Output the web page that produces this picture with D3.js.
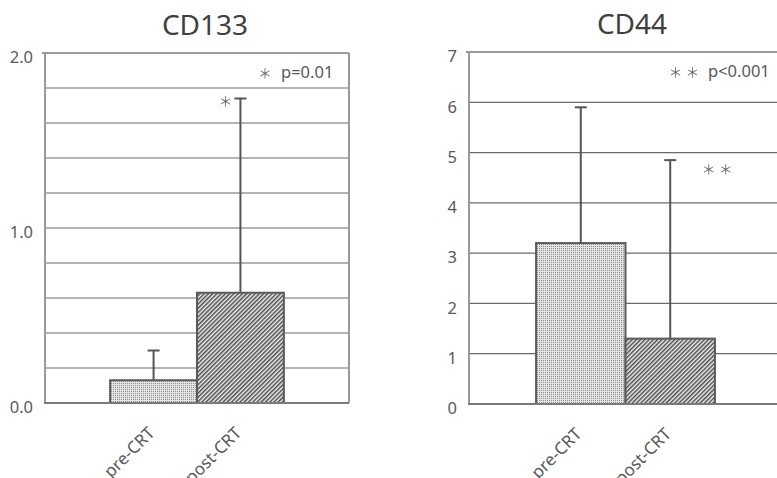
<!DOCTYPE html>
<html>
<head>
<meta charset="utf-8">
<script src="https://cdn.jsdelivr.net/npm/d3@7"></script>
<style>
  body { margin: 0; background: #fff; }
  svg { display: block; font-family: "Noto Sans", sans-serif; }
  .star { filter: grayscale(100%); }
</style>
</head>
<body>
<svg id="chart" width="777" height="478"></svg>
<script>
// groups and values
var groups = ["pre-CRT", "post-CRT"];

var cd133Mean = [0.13, 0.63];
var cd133Sd = [0.17, 1.11];
var cd133Ticks = [0, 1, 2];
var cd133Grid = [0.2, 0.4, 0.6, 0.8, 1.0, 1.2, 1.4, 1.6, 1.8];

var cd44Mean = [3.2, 1.3];
var cd44Sd = [2.7, 3.55];
var cd44Ticks = [0, 1, 2, 3, 4, 5, 6, 7];
var cd44Grid = [1, 2, 3, 4, 5, 6];

var textColor = "#595959";
var starFont = "'Noto Sans CJK JP', 'DejaVu Sans', sans-serif";
var svg = d3.select("#chart");

// fill patterns
var defs = svg.append("defs");
var dots = defs.append("pattern")
  .attr("id", "dots")
  .attr("patternUnits", "userSpaceOnUse")
  .attr("width", 2).attr("height", 2);
dots.append("rect").attr("width", 2).attr("height", 2).attr("fill", "#e4e4e4");
dots.append("rect").attr("width", 1).attr("height", 1).attr("fill", "#8e8e8e");

var hatch = defs.append("pattern")
  .attr("id", "hatch")
  .attr("patternUnits", "userSpaceOnUse")
  .attr("width", 3).attr("height", 3)
  .attr("patternTransform", "rotate(45)");
hatch.append("rect").attr("width", 3).attr("height", 3).attr("fill", "#f2f2f2");
hatch.append("rect").attr("width", 1.5).attr("height", 3).attr("fill", "#4a4a4a");

var fills = ["url(#dots)", "url(#hatch)"];

drawPanel({
  left: 45, top: 53, width: 304, height: 350,
  title: "CD133", titleX: 160,
  mean: cd133Mean, sd: cd133Sd, max: 2,
  ticks: cd133Ticks, grid: cd133Grid, fmt: d3.format(".1f"),
  note: "p=0.01", noteStars: "＊", starsX: 220, noteX: 236,
  barStars: "＊", barStarsDx: -15, barStarsDy: 3,
  rightBorder: true
});

drawPanel({
  left: 469, top: 52, width: 313, height: 352,
  title: "CD44", titleX: 163,
  mean: cd44Mean, sd: cd44Sd, max: 7,
  ticks: cd44Ticks, grid: cd44Grid, fmt: d3.format("d"),
  note: "p<0.001", noteStars: "＊ ＊", starsX: 215, noteX: 239,
  barStars: "＊ ＊", barStarsDx: 47, barStarsDy: 9,
  rightBorder: false
});

function drawPanel(o) {
  var g = svg.append("g")
    .attr("transform", `translate(${o.left}, ${o.top})`);

  var x = d3.scaleBand()
    .domain(groups)
    .range([0, o.width])
    .paddingInner(0)
    .paddingOuter(0.75);

  var y = d3.scaleLinear()
    .domain([0, o.max])
    .range([o.height, 0]);

  // title
  g.append("text")
    .attr("x", o.titleX)
    .attr("y", -18)
    .attr("text-anchor", "middle")
    .attr("font-size", 28)
    .attr("fill", "#404040")
    .text(o.title);

  // grid lines
  g.selectAll(".grid")
    .data(o.grid)
    .enter().append("line")
    .attr("x1", 0).attr("x2", o.width)
    .attr("y1", d => y(d)).attr("y2", d => y(d))
    .attr("stroke", "#6a6a6a")
    .attr("stroke-width", 1.2);

  // frame
  g.append("line")
    .attr("x1", -3).attr("x2", o.width)
    .attr("y1", y(o.max)).attr("y2", y(o.max))
    .attr("stroke", "#9a9a9a").attr("stroke-width", 2);
  g.append("line")
    .attr("x1", 0).attr("x2", 0)
    .attr("y1", y(o.max)).attr("y2", y(0))
    .attr("stroke", "#9a9a9a").attr("stroke-width", 2);
  if (o.rightBorder) {
    g.append("line")
      .attr("x1", o.width).attr("x2", o.width)
      .attr("y1", y(o.max)).attr("y2", y(0))
      .attr("stroke", "#9a9a9a").attr("stroke-width", 2);
  }

  // y tick labels
  g.selectAll(".ylab")
    .data(o.ticks)
    .enter().append("text")
    .attr("x", -12)
    .attr("y", d => y(d))
    .attr("dy", "0.62em")
    .attr("text-anchor", "end")
    .attr("font-size", 16.5)
    .attr("fill", textColor)
    .text(o.fmt);

  // error bars (drawn first, bars cover their lower part)
  var errs = g.selectAll(".err")
    .data(groups)
    .enter().append("g");
  errs.append("line")
    .attr("x1", d => x(d) + x.bandwidth() / 2)
    .attr("x2", d => x(d) + x.bandwidth() / 2)
    .attr("y1", (d, i) => y(o.mean[i]))
    .attr("y2", (d, i) => y(o.mean[i] + o.sd[i]))
    .attr("stroke", "#555").attr("stroke-width", 2);
  errs.append("line")
    .attr("x1", d => x(d) + x.bandwidth() / 2 - 6)
    .attr("x2", d => x(d) + x.bandwidth() / 2 + 6)
    .attr("y1", (d, i) => y(o.mean[i] + o.sd[i]))
    .attr("y2", (d, i) => y(o.mean[i] + o.sd[i]))
    .attr("stroke", "#555").attr("stroke-width", 2);

  // bars
  g.selectAll(".bar")
    .data(groups)
    .enter().append("rect")
    .attr("x", d => x(d))
    .attr("y", (d, i) => y(o.mean[i]))
    .attr("width", x.bandwidth())
    .attr("height", (d, i) => y(0) - y(o.mean[i]))
    .attr("fill", (d, i) => fills[i])
    .attr("stroke", "#5a5a5a")
    .attr("stroke-width", 2);

  // baseline
  g.append("line")
    .attr("x1", -1).attr("x2", o.width)
    .attr("y1", y(0)).attr("y2", y(0))
    .attr("stroke", "#7a7a7a").attr("stroke-width", 2);

  // x labels
  g.selectAll(".xlab")
    .data(groups)
    .enter().append("text")
    .attr("transform", d => `translate(${x(d) + x.bandwidth() / 2 + 2}, ${o.height + 31}) rotate(-45)`)
    .attr("text-anchor", "end")
    .attr("font-size", 17)
    .attr("fill", textColor)
    .text(d => d);

  // significance note
  g.append("text")
    .attr("class", "star")
    .attr("x", o.starsX)
    .attr("y", y(o.max) + 25)
    .attr("text-anchor", "middle")
    .attr("font-family", starFont)
    .attr("font-size", 14)
    .attr("fill", "#6e6e6e")
    .text(o.noteStars);
  g.append("text")
    .attr("x", o.noteX)
    .attr("y", y(o.max) + 25)
    .attr("font-size", 16.5)
    .attr("fill", textColor)
    .text(o.note);

  // stars by post-CRT error bar
  var post = groups[1];
  g.append("text")
    .attr("class", "star")
    .attr("x", x(post) + x.bandwidth() / 2 + o.barStarsDx)
    .attr("y", y(o.mean[1] + o.sd[1]) + o.barStarsDy)
    .attr("dy", "0.35em")
    .attr("text-anchor", "middle")
    .attr("font-family", starFont)
    .attr("font-size", 14)
    .attr("fill", "#6e6e6e")
    .text(o.barStars);
}
</script>
</body>
</html>
